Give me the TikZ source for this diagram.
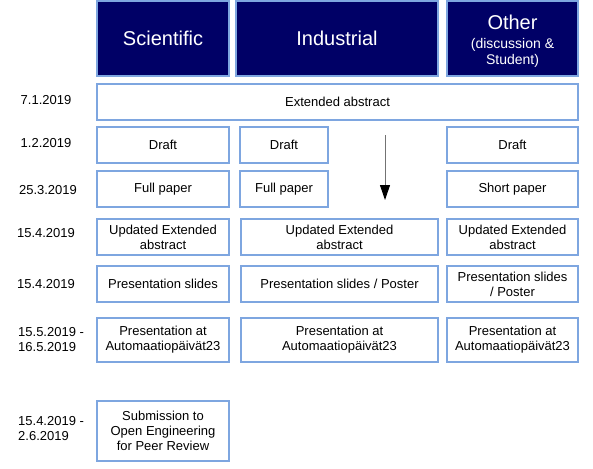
\documentclass[tikz,border=0pt]{standalone}
\usepackage{fontspec}
\setmainfont{Liberation Sans}
\usetikzlibrary{arrows.meta}
\definecolor{navy}{HTML}{000066}
\definecolor{edgeblue}{HTML}{7EA6E0}
\begin{document}
\begin{tikzpicture}[x=1pt,y=-1pt,
  box/.style={draw=edgeblue, line width=1.2pt, fill=white, inner sep=0pt, align=center,
    font=\fontsize{13}{15}\selectfont},
  head/.style={draw=edgeblue, line width=1.2pt, fill=navy, text=white, inner sep=0pt, align=center,
    font=\fontsize{20}{23}\selectfont},
  subhead/.style={head, font=\fontsize{14}{16}\selectfont},
  datelbl/.style={inner sep=0pt, align=left, font=\fontsize{13}{15}\selectfont},
  flow/.style={draw=black!55, line width=1pt, -{Triangle[length=15pt,width=10pt,fill=black,color=black]}}
]
\useasboundingbox (0,0) rectangle (593,468);
% helper macro for boxes: \bx{name}{style}{x1}{y1}{x2}{y2}{text}
\newcommand\bx[7]{\node[#2, minimum width={(#5-#3)*1pt}, minimum height={(#6-#4)*1pt}]
  (#1) at ({(#3+#5)/2},{(#4+#6)/2}) {#7};}
% headers
\bx{hs}{head}{97}{1}{229}{76}{Scientific}
\bx{hi}{head}{236}{1}{438}{76}{Industrial}
\node[subhead, minimum width=131pt, minimum height=75pt] (ho) at (512.5,38.5) {};
\node[align=center, text=white, inner sep=0pt, font=\fontsize{14}{16}\selectfont] (hot) at (512.5,41)
  {{\fontsize{20}{20}\selectfont Other}\\[3pt](discussion \&\\Student)};
% rows
\bx{ext}{box}{97}{84}{578}{120}{Extended abstract}
\bx{ds}{box}{97}{127}{229}{163}{Draft}
\bx{di}{box}{240}{127}{328}{163}{Draft}
\bx{do}{box}{447}{127}{578}{163}{Draft}
\bx{fs}{box}{97}{171}{229}{207}{Full paper}
\bx{fi}{box}{240}{171}{328}{207}{Full paper}
\bx{fo}{box}{447}{171}{578}{207}{Short paper}
\bx{us}{box}{97}{219}{229}{255}{Updated Extended\\abstract}
\bx{ui}{box}{241}{219}{438}{255}{Updated Extended\\abstract}
\bx{uo}{box}{447}{219}{578}{255}{Updated Extended\\abstract}
\bx{ps}{box}{97}{266}{229}{302}{Presentation slides}
\bx{pi}{box}{241}{266}{438}{302}{Presentation slides / Poster}
\bx{po}{box}{447}{266}{578}{302}{Presentation slides\\/ Poster}
\bx{as}{box}{97}{318}{229}{362}{Presentation at\\Automaatiopäivät23}
\bx{ai}{box}{241}{318}{438}{362}{Presentation at\\Automaatiopäivät23}
\bx{ao}{box}{447}{318}{578}{362}{Presentation at\\Automaatiopäivät23}
\bx{sub}{box}{97}{401}{229}{461}{Submission to\\Open Engineering\\for Peer Review}
% dates
\node[datelbl] (d1) at (46,100) {7.1.2019};
\node[datelbl] (d2) at (46,143) {1.2.2019};
\node[datelbl] (d3) at (48,190) {25.3.2019};
\node[datelbl] (d4) at (46,233) {15.4.2019};
\node[datelbl] (d5) at (46,284) {15.4.2019};
\node[datelbl, anchor=west] (d6) at (18,340) {15.5.2019 -\\16.5.2019};
\node[datelbl, anchor=west] (d7) at (18,429) {15.4.2019 -\\2.6.2019};
% arrow
\coordinate (a1) at (385,135);
\coordinate (a2) at (385,200);
\draw[flow] (a1) -- (a2);
\end{tikzpicture}
\end{document}
